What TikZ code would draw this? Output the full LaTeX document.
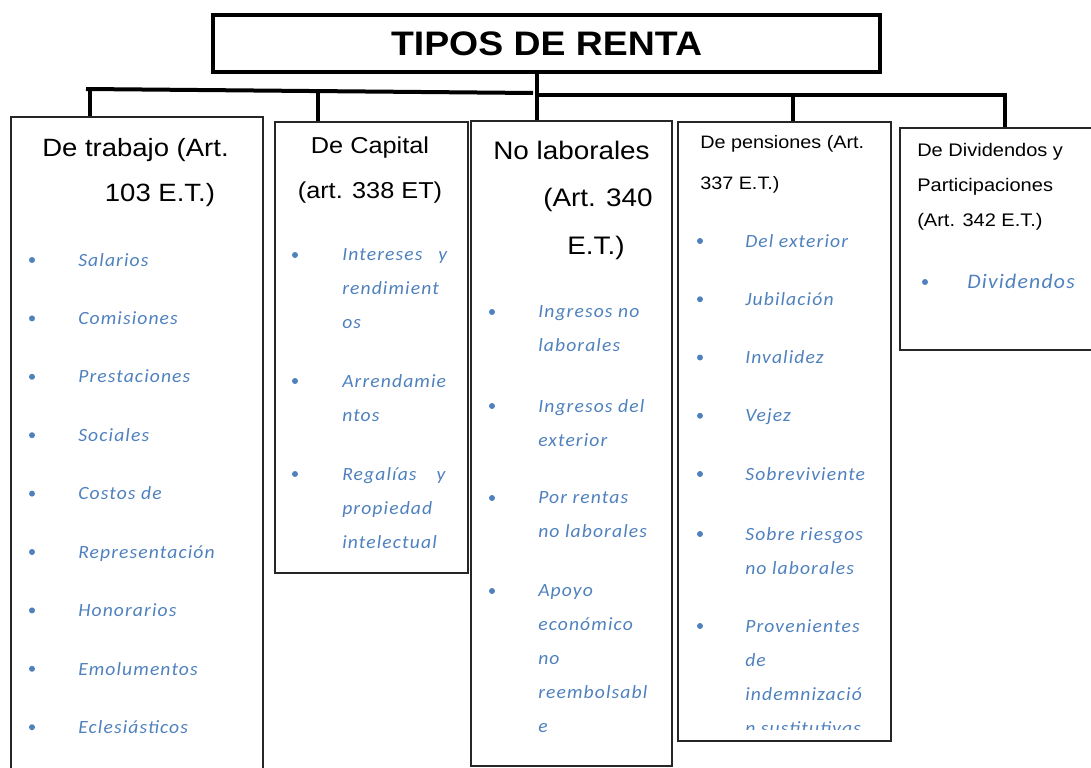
\documentclass[tikz,border=0pt]{standalone}
\usepackage{fontspec}
\setmainfont{Liberation Sans}
\newfontfamily\headfont{Liberation Sans}[FakeStretch=1.1]
\newfontfamily\itemfont{Carlito}[FakeStretch=1.05,LetterSpace=6]
\usetikzlibrary{positioning}
\definecolor{itemblue}{HTML}{4F81BD}

\begin{document}
\begin{tikzpicture}[x=0.75pt,y=-0.75pt]
\tikzstyle{titlebox} = [draw, line width=3pt, minimum width=500pt, minimum height=42.75pt, inner sep=0pt, font=\headfont\bfseries\fontsize{25.5}{30}\selectfont]
\tikzstyle{catbox} = [draw=black!85, line width=1.1pt, inner sep=0pt]
\tikzstyle{head} = [anchor=north west, align=left, inner sep=0pt]
\tikzstyle{item} = [anchor=north west, align=left, inner sep=0pt, text=itemblue, font=\itemfont\itshape\fontsize{14}{25.5}\selectfont]
\tikzstyle{dot} = [circle, fill=itemblue, inner sep=0pt, minimum size=4.5pt]
\tikzstyle{link} = [line width=3pt]

\useasboundingbox (0,0) rectangle (1091,767);
\clip (0,0) rectangle (1091,767);

    % boxes
    \node [titlebox] (tipos) at (546.5,43.5) {TIPOS DE RENTA};
    \node [catbox, minimum width=189pt, minimum height=512.25pt] (trabajo) at (137,458.5) {};
    \node [catbox, minimum width=144.75pt, minimum height=338.25pt] (capital) at (371.5,347.5) {};
    \node [catbox, minimum width=150.75pt, minimum height=483.75pt] (nolab) at (571.5,443.5) {};
    \node [catbox, minimum width=159.75pt, minimum height=464.25pt] (pension) at (784.5,431.5) {};
    \node [catbox, minimum width=157.5pt, minimum height=166.5pt] (divid) at (1005,239) {};

    % tree lines
    \coordinate (hub) at (537,95);
    \coordinate (barL) at (86,89);
    \coordinate (barM) at (533,93);
    \coordinate (barR) at (1007,95);
    \coordinate (j1) at (90,89);
    \coordinate (j2) at (318,91);
    \coordinate (j4) at (793,95);
    \coordinate (j5) at (1005,95);
    \draw [link] (hub |- tipos.south) -- (hub |- nolab.north);
    \draw [link] (barL) -- (barM);
    \draw [link] (hub) -- (barR);
    \draw [link] (j1) -- (j1 |- trabajo.north);
    \draw [link] (j2) -- (j2 |- capital.north);
    \draw [link] (j4) -- (j4 |- pension.north);
    \draw [link] (j5) -- (j5 |- divid.north);

    % headings
    \node [head, font=\headfont\fontsize{18.75}{33.75}\selectfont] (trabajo-t) at (42,138) {De trabajo (Art.\\\hspace*{47pt}103 E.T.)};
    \node [head, anchor=north, align=center, font=\headfont\fontsize{17.25}{33.75}\selectfont] (capital-t) at (370,136.5) {De Capital\\(art. 338 ET)};
    \node [head, font=\headfont\fontsize{19}{35.6}\selectfont] (nolab-t) at (493,140.6) {No laborales\\\hspace*{37.5pt}(Art. 340\\\hspace*{55.5pt}E.T.)};
    \node [head, font=\headfont\fontsize{13.5}{30.75}\selectfont] (pension-t) at (700,135.3) {De pensiones (Art.\\337 E.T.)};
    \node [head, font=\headfont\fontsize{13.65}{26.25}\selectfont] (divid-t) at (917,143.3) {De Dividendos y\\Participaciones\\(Art. 342 E.T.)};

    % De trabajo
    \foreach \txt [count=\i from 0] in {Salarios, Comisiones, Prestaciones, Sociales, Costos de, Representación, Honorarios, Emolumentos, Eclesiásticos}{
      \node [dot] (trabajo-b\i) at (32,{260+58.4*\i}) {};
      \node [item] (trabajo-\i) at (78,{253+58.4*\i}) {\txt};
    }

    % De capital
    \node [dot] (capital-b1) at (295,255) {};
    \node [item] (capital-1) at (342,248) {Intereses\hspace{12pt}y\\rendimient\\os};
    \node [dot] (capital-b2) at (295,381) {};
    \node [item] (capital-2) at (342,374) {Arrendamie\\ntos};
    \node [dot] (capital-b3) at (295,474) {};
    \node [item] (capital-3) at (342,467) {Regalías\hspace{15pt}y\\propiedad\\intelectual};

    % No laborales
    \node [dot] (nolab-b1) at (492,312) {};
    \node [item] (nolab-1) at (538,305) {Ingresos no\\laborales};
    \node [dot] (nolab-b2) at (492,406) {};
    \node [item] (nolab-2) at (538,399) {Ingresos del\\exterior};
    \node [dot] (nolab-b3) at (492,498) {};
    \node [item] (nolab-3) at (538,491) {Por rentas\\no laborales};
    \node [dot] (nolab-b4) at (492,591) {};
    \node [item] (nolab-4) at (538,584) {Apoyo\\económico\\no\\reembolsabl\\e};

    % De pensiones
    \foreach \txt [count=\i from 0] in {Del exterior, Jubilación, Invalidez, Vejez, Sobreviviente}{
      \node [dot] (pension-b\i) at (700,{241+58.25*\i}) {};
      \node [item] (pension-\i) at (745,{234+58.25*\i}) {\txt};
    }
    \node [dot] (pension-b5) at (700,534) {};
    \node [item] (pension-5) at (745,527) {Sobre riesgos\\no laborales};
    \node [dot] (pension-b6) at (700,626) {};
    \begin{scope}
      \clip (pension.north west) rectangle ([yshift=9pt]pension.south east);
      \node [item] (pension-6) at (745,619) {Provenientes\\de\\indemnizació\\n sustitutivas};
    \end{scope}

    % De dividendos
    \node [dot] (divid-b1) at (925,282) {};
    \node [item, font=\itemfont\itshape\fontsize{15.5}{26}\selectfont] (divid-1) at (967,274) {Dividendos};

\end{tikzpicture}
\end{document}
